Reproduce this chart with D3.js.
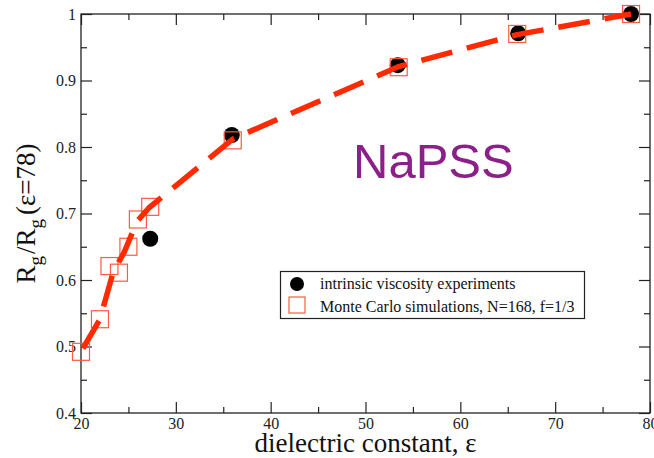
<!DOCTYPE html>
<html>
<head>
<meta charset="utf-8">
<script src="https://cdn.jsdelivr.net/npm/d3@7"></script>
<style>
  body { margin: 0; background: #fff; }
  svg { display: block; }
</style>
</head>
<body>
<div id="chart"></div>
<script>
// intrinsic viscosity experiments (black dots)
const expEps = [27.3, 35.9, 53.4, 66.1, 78.0];
const expRg  = [0.662, 0.818, 0.923, 0.971, 1.0];

// Monte Carlo simulations (open squares)
const mcEps = [20.0, 22.0, 23.0, 24.0, 25.0, 26.0, 27.3, 36.0, 53.5, 66.0, 78.0];
const mcRg  = [0.492, 0.541, 0.621, 0.611, 0.650, 0.691, 0.710, 0.810, 0.920, 0.970, 1.0];

// dashed red guide curve
const fitEps = [20.2, 22.0, 23.4, 24.6, 25.9, 27.2, 36.0, 53.5, 66.0, 78.0];
const fitRg  = [0.497, 0.541, 0.612, 0.643, 0.688, 0.709, 0.812, 0.921, 0.969, 1.0];

// tick values
const xMajor = [20, 30, 40, 50, 60, 70, 80];
const xMinor = [25, 35, 45, 55, 65, 75];
const yMajor = [0.4, 0.5, 0.6, 0.7, 0.8, 0.9, 1.0];
const yMinor = [0.45, 0.55, 0.65, 0.75, 0.85, 0.95];

const legendLabels = ['intrinsic viscosity experiments', 'Monte Carlo simulations, N=168, f=1/3'];

// Chart dimensions
let dim = { width: 654, height: 458 };
let plot = { left: 81, right: 650, top: 14, bottom: 413 };

let x = d3.scaleLinear().domain([20, 80]).range([plot.left, plot.right]);
let y = d3.scaleLinear().domain([0.4, 1.0]).range([plot.bottom, plot.top]);

let svg = d3.select('#chart').append('svg')
    .attr('width', dim.width)
    .attr('height', dim.height);

const serif = '"Liberation Serif", "Times New Roman", serif';
const red = '#ff2a00';
const sqRed = '#ff5a42';

// axes: ticks point inward on all four sides
function addAxis(axisFn, scale, vals, size, labels, transform) {
    let g = svg.append('g')
        .attr('transform', transform)
        .call(axisFn(scale).tickValues(vals).tickSize(-size).tickPadding(labels ? 5 : 0)
            .tickFormat(labels ? d3.format('') : () => ''));
    g.select('.domain').remove();
    g.selectAll('line').attr('stroke', '#222').attr('stroke-width', 1.2);
    g.selectAll('text').attr('font-family', serif).attr('font-size', 16).attr('fill', '#222');
    return g;
}

addAxis(d3.axisBottom, x, xMajor, 11, true, `translate(0,${plot.bottom})`);
addAxis(d3.axisBottom, x, xMinor, 6, false, `translate(0,${plot.bottom})`);
addAxis(d3.axisTop, x, xMajor, 11, false, `translate(0,${plot.top})`);
addAxis(d3.axisTop, x, xMinor, 6, false, `translate(0,${plot.top})`);
addAxis(d3.axisLeft, y, yMajor, 11, true, `translate(${plot.left},0)`);
addAxis(d3.axisLeft, y, yMinor, 6, false, `translate(${plot.left},0)`);
addAxis(d3.axisRight, y, yMajor, 11, false, `translate(${plot.right},0)`);
addAxis(d3.axisRight, y, yMinor, 6, false, `translate(${plot.right},0)`);

// frame
svg.append('rect')
    .attr('x', plot.left).attr('y', plot.top)
    .attr('width', plot.right - plot.left).attr('height', plot.bottom - plot.top)
    .attr('fill', 'none').attr('stroke', '#222').attr('stroke-width', 1.3);

// experiment dots
svg.append('g').selectAll('circle')
    .data(d3.zip(expEps, expRg))
    .join('circle')
    .attr('cx', d => x(d[0]))
    .attr('cy', d => y(d[1]))
    .attr('r', 8)
    .attr('fill', '#000');

// simulation squares
const sq = 17;
svg.append('g').selectAll('rect')
    .data(d3.zip(mcEps, mcRg))
    .join('rect')
    .attr('x', d => x(d[0]) - sq / 2)
    .attr('y', d => y(d[1]) - sq / 2)
    .attr('width', sq).attr('height', sq)
    .attr('fill', 'none')
    .attr('stroke', sqRed)
    .attr('stroke-width', 1.2);

// dashed curve on top
let line = d3.line().x(d => x(d[0])).y(d => y(d[1]));
svg.append('path')
    .datum(d3.zip(fitEps, fitRg))
    .attr('d', line)
    .attr('fill', 'none')
    .attr('stroke', red)
    .attr('stroke-width', 5.5)
    .attr('stroke-dasharray', '32,15');

// NaPSS label
svg.append('text')
    .attr('x', 353).attr('y', 178)
    .attr('font-family', '"Liberation Sans", Arial, sans-serif')
    .attr('font-size', 49)
    .attr('fill', '#8c1f88')
    .text('NaPSS');

// legend
let leg = svg.append('g');
leg.append('rect')
    .attr('x', 280.5).attr('y', 271.5)
    .attr('width', 304).attr('height', 47)
    .attr('fill', '#fff').attr('stroke', '#222').attr('stroke-width', 1.2);
leg.append('circle').attr('cx', 297).attr('cy', 284).attr('r', 7).attr('fill', '#000');
leg.append('rect').attr('x', 289).attr('y', 297).attr('width', 16).attr('height', 16)
    .attr('fill', 'none').attr('stroke', sqRed).attr('stroke-width', 1.2);
leg.selectAll('text.lab')
    .data(legendLabels)
    .join('text')
    .attr('class', 'lab')
    .attr('x', 320)
    .attr('y', (d, i) => 289 + i * 23)
    .attr('font-family', serif)
    .attr('font-size', 16)
    .attr('fill', '#111')
    .text(d => d);

// axis titles
svg.append('text')
    .attr('x', (plot.left + plot.right) / 2).attr('y', 452)
    .attr('text-anchor', 'middle')
    .attr('font-family', serif).attr('font-size', 27).attr('fill', '#111')
    .text('dielectric constant, ε');

let yt = svg.append('text')
    .attr('transform', `translate(35,${(plot.top + plot.bottom) / 2}) rotate(-90)`)
    .attr('text-anchor', 'middle')
    .attr('font-family', serif).attr('font-size', 27).attr('fill', '#111');
yt.append('tspan').text('R');
yt.append('tspan').attr('dy', 7).attr('font-size', 19).text('g');
yt.append('tspan').attr('dy', -7).attr('dx', 2).text('/R');
yt.append('tspan').attr('dy', 7).attr('font-size', 19).text('g');
yt.append('tspan').attr('dy', -7).attr('dx', 4).text('(ε=78)');
</script>
</body>
</html>
